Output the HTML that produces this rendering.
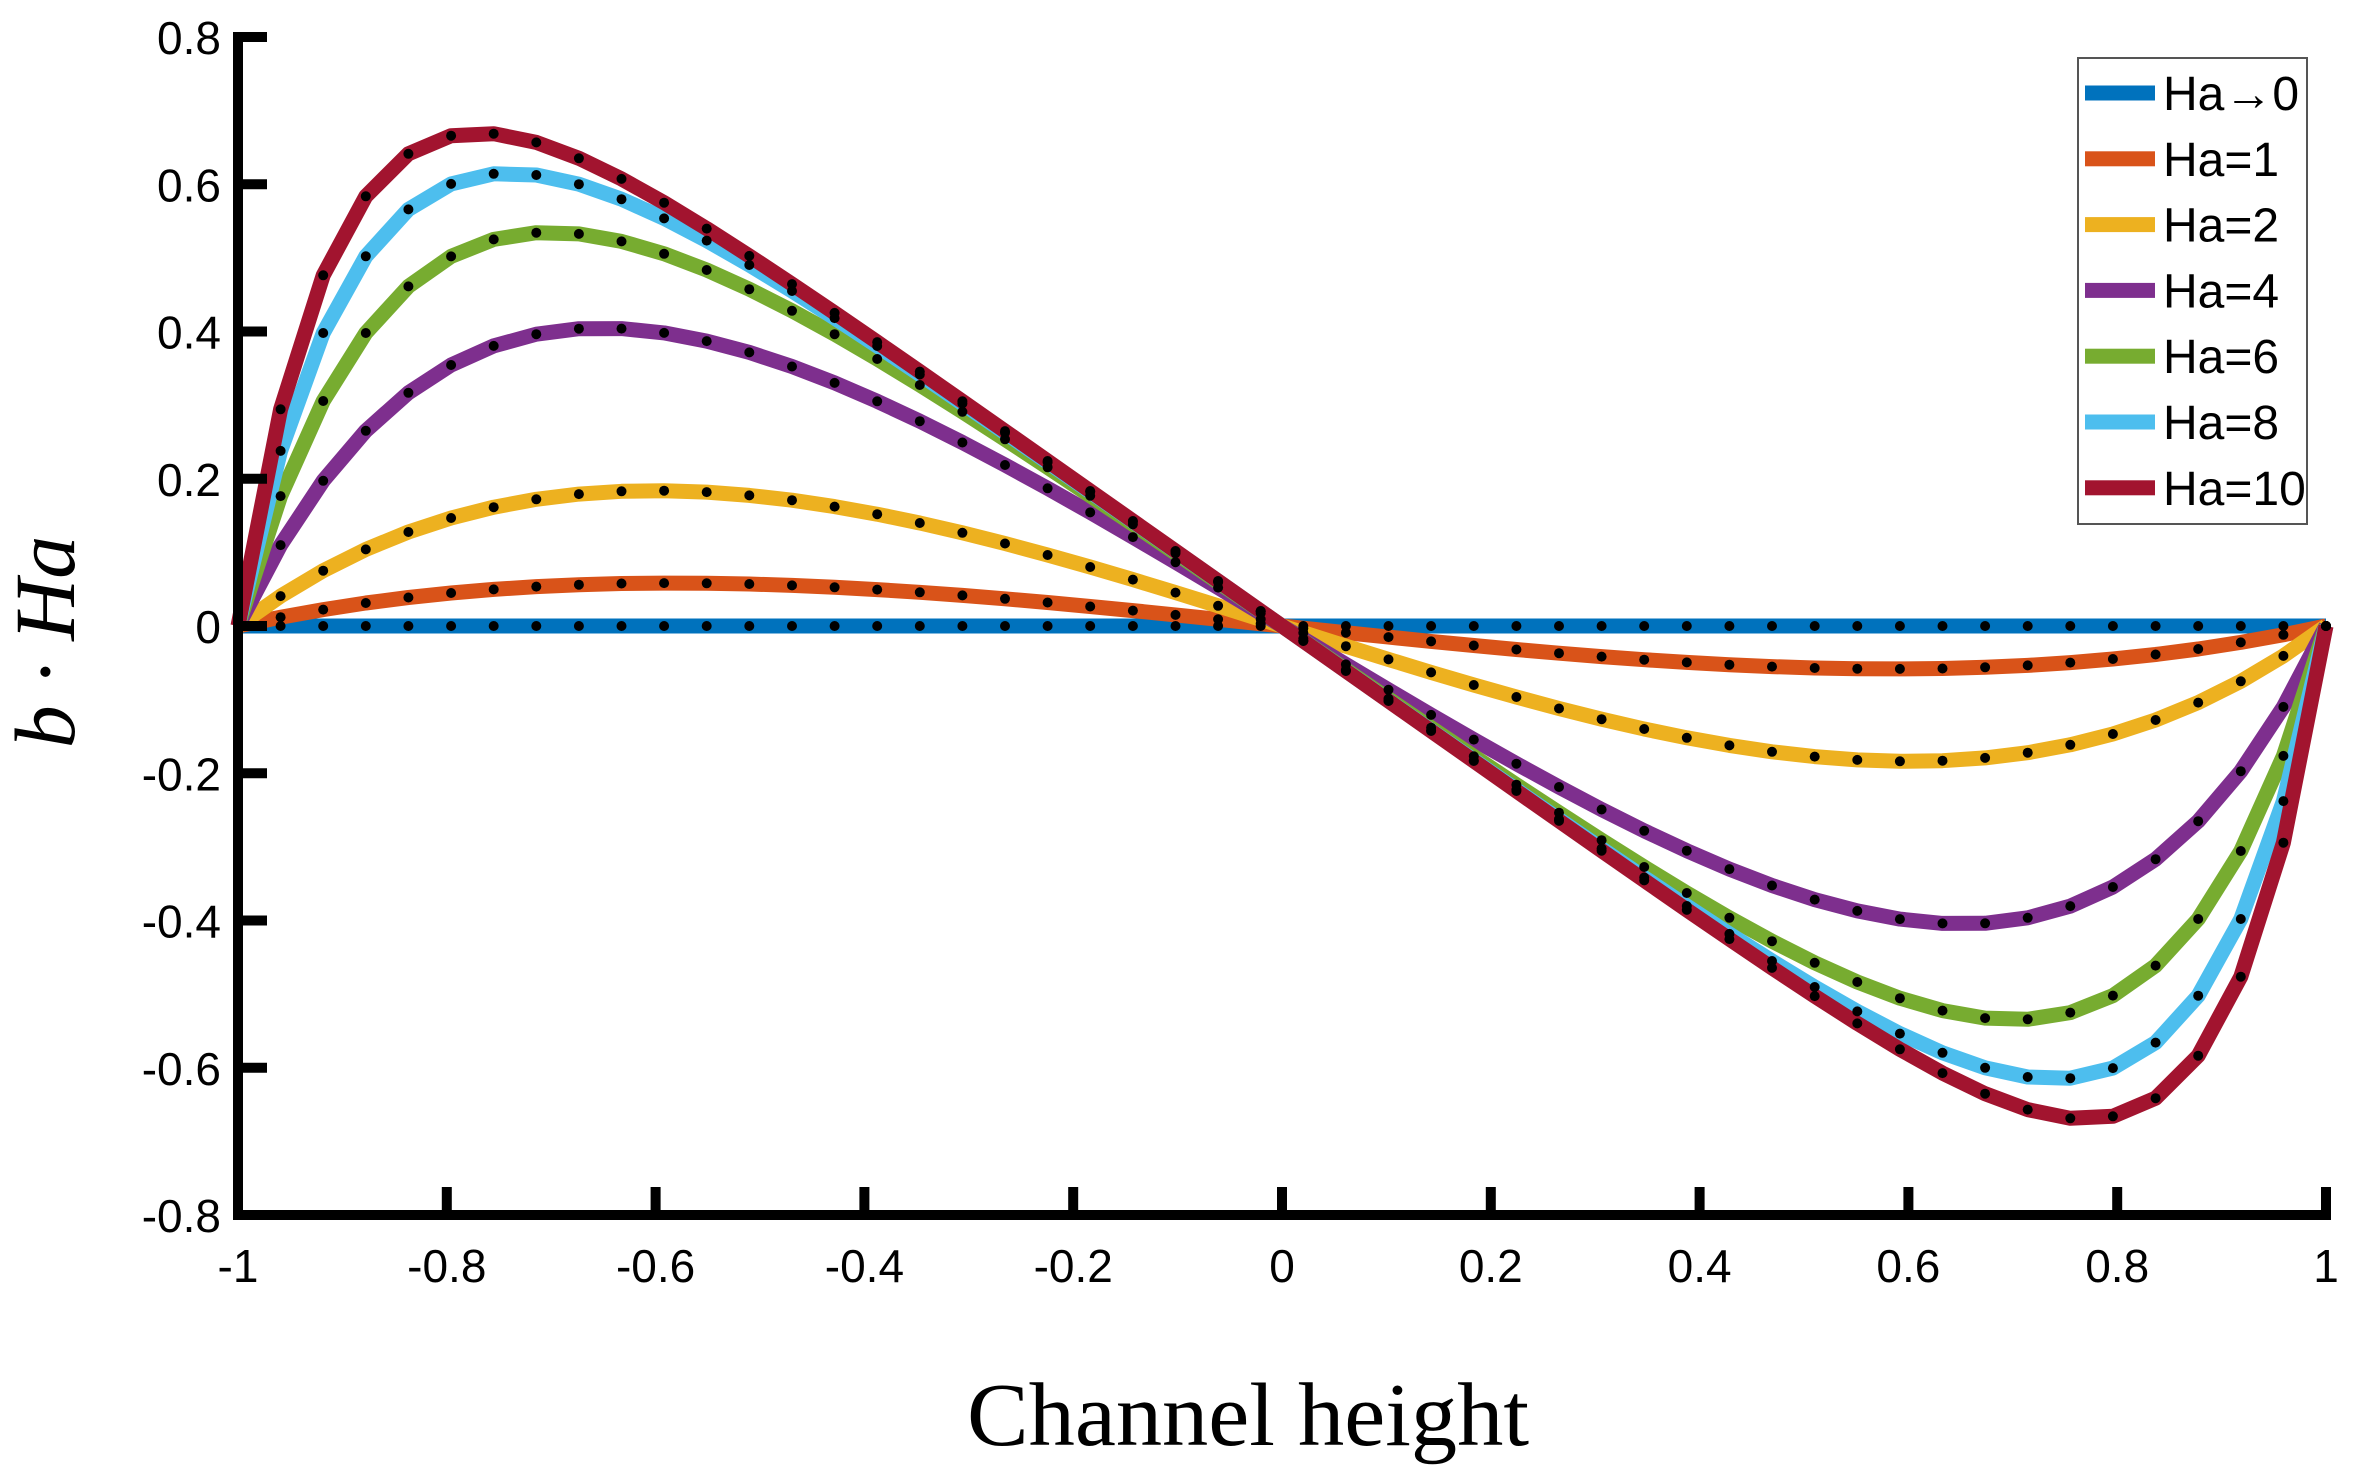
<!DOCTYPE html>
<html><head><meta charset="utf-8"><style>
html,body{margin:0;padding:0;background:#fff;}
svg{display:block;}
.sans{font-family:"Liberation Sans",Arial,sans-serif;}
</style></head><body>
<svg id="s" width="2371" height="1470" viewBox="0 0 2371 1470" xmlns="http://www.w3.org/2000/svg">
<g id="curves"></g>
<g id="dots"></g>
<g id="axes" stroke="#000" stroke-width="10" fill="none"></g>
<g id="labels" class="sans" font-size="46" fill="#000"></g>
<text x="1248" y="1445" style="font-family:'Liberation Serif',serif" font-size="90" text-anchor="middle" textLength="562" lengthAdjust="spacingAndGlyphs">Channel height</text>
<text transform="translate(74,642) rotate(-90)" style="font-family:'Liberation Serif',serif;font-style:italic" font-size="86" text-anchor="middle">b · Ha</text>
<g id="legend" class="sans">
<rect x="2078" y="58" width="229" height="466" fill="#fff" stroke="#555" stroke-width="2"/>
</g>
</svg>
<script>
var NS="http://www.w3.org/2000/svg";
function X(x){return 238+(x+1)*1044;}
function Y(y){return 626-y*736.25;}
var has=[0,1,2,4,6,8,10];
var cols=["#0072BD","#D95319","#EDB120","#7E2F8E","#77AC30","#4DBEEE","#A2142F"];
var names=["Ha\u21920","Ha=1","Ha=2","Ha=4","Ha=6","Ha=8","Ha=10"];
var cg=document.getElementById("curves"),dg=document.getElementById("dots");
var N=50;
for(var k=0;k<has.length;k++){
  var Ha=has[k],pts=[];
  for(var i=0;i<N;i++){
    var y=-1+2*i/(N-1);
    var v=Ha==0?0:Math.sinh(Ha*y)/Math.sinh(Ha)-y;
    pts.push([X(y),Y(v)]);
  }
  var p=document.createElementNS(NS,"polyline");
  p.setAttribute("points",pts.map(function(a){return a[0].toFixed(1)+","+a[1].toFixed(1)}).join(" "));
  p.setAttribute("fill","none");p.setAttribute("stroke",cols[k]);p.setAttribute("stroke-width","15");
  p.setAttribute("stroke-linejoin","round");
  cg.appendChild(p);
  pts.forEach(function(a){
    var c=document.createElementNS(NS,"circle");
    c.setAttribute("cx",a[0].toFixed(1));c.setAttribute("cy",a[1].toFixed(1));c.setAttribute("r","5");c.setAttribute("fill","#000");
    dg.appendChild(c);
  });
}
var ag=document.getElementById("axes"),lg=document.getElementById("labels");
function line(x1,y1,x2,y2){var l=document.createElementNS(NS,"line");l.setAttribute("x1",x1);l.setAttribute("y1",y1);l.setAttribute("x2",x2);l.setAttribute("y2",y2);ag.appendChild(l);}
line(238,32,238,1220);line(233,1215,2331,1215);
function txt(x,y,s,anc){var t=document.createElementNS(NS,"text");t.setAttribute("x",x);t.setAttribute("y",y);t.setAttribute("text-anchor",anc);t.textContent=s;lg.appendChild(t);}
for(var j=-4;j<=4;j++){
  var v=j*0.2,yy=Y(v);
  line(233,yy,267,yy);
  var s=(j==0)?"0":(v<0?"-":"")+Math.abs(v).toFixed(1);
  txt(221,yy+17,s,"end");
}
for(var j=-5;j<=5;j++){
  var v=j*0.2,xx=X(v);
  line(xx,1220,xx,1187);
  var s=(j==0)?"0":(j==-5?"-1":(j==5?"1":(v<0?"-":"")+Math.abs(v).toFixed(1)));
  txt(xx,1282,s,"middle");
}
var leg=document.getElementById("legend");
for(var k=0;k<7;k++){
  var cy=93+k*65.8;
  var r=document.createElementNS(NS,"rect");
  r.setAttribute("x",2085);r.setAttribute("y",cy-7.5);r.setAttribute("width",70);r.setAttribute("height",15);r.setAttribute("fill",cols[k]);
  leg.appendChild(r);
  var t=document.createElementNS(NS,"text");
  t.setAttribute("x",2163);t.setAttribute("y",cy+17);t.setAttribute("font-size","48");t.textContent=names[k];
  leg.appendChild(t);
}
</script>
</body></html>
